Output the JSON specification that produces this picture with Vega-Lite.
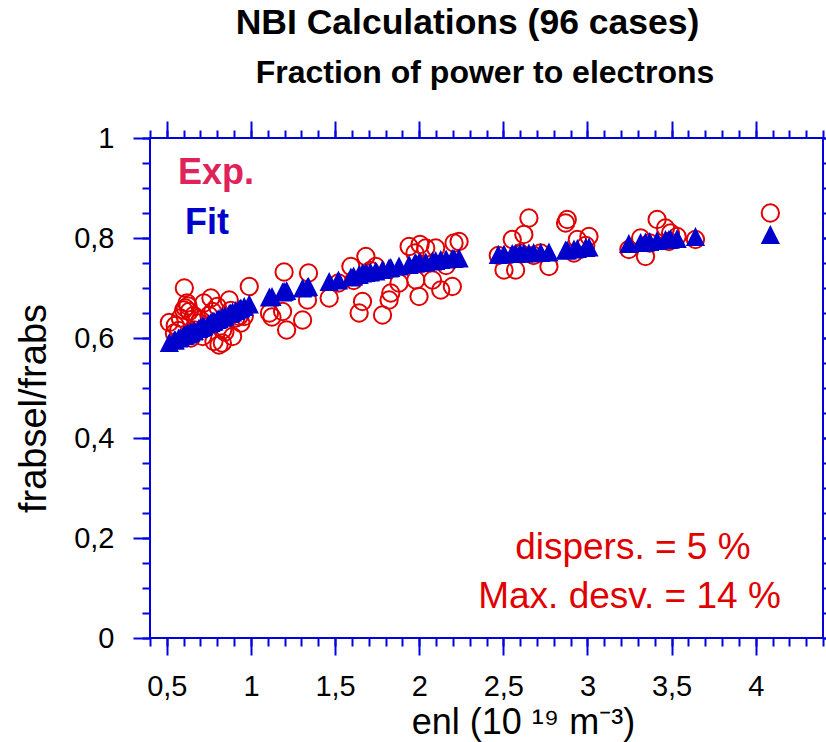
{
  "$schema": "https://vega.github.io/schema/vega-lite/v6.json",
  "width": 673,
  "height": 500,
  "autosize": "none",
  "padding": {"left": 150, "top": 138, "right": 3, "bottom": 104},
  "background": "white",
  "config": {
    "font": "Liberation Sans",
    "view": {"stroke": "#0000e0", "strokeWidth": 2},
    "axis": {
      "domain": false, "grid": false, "tickColor": "#0000e0", "tickWidth": 2,
      "labelFont": "Liberation Sans", "labelFontSize": 29, "labelColor": "black",
      "titleFont": "Liberation Sans", "titleFontSize": 36, "titleFontWeight": "normal", "titleColor": "black"
    }
  },
  "title": {
    "text": "NBI Calculations (96 cases)",
    "fontSize": 35.5, "fontWeight": "bold", "font": "Liberation Sans", "color": "black",
    "anchor": "middle", "baseline": "alphabetic", "offset": -13, "dx": -19
  },
  "datasets": {
    "cases": [
      {"enl": 0.515, "exp": 0.631, "fit": 0.591},
      {"enl": 0.545, "exp": 0.610, "fit": 0.596},
      {"enl": 0.55, "exp": 0.625, "fit": 0.596},
      {"enl": 0.57, "exp": 0.615, "fit": 0.600},
      {"enl": 0.58, "exp": 0.640, "fit": 0.601},
      {"enl": 0.60, "exp": 0.656, "fit": 0.605},
      {"enl": 0.604, "exp": 0.700, "fit": 0.605},
      {"enl": 0.61, "exp": 0.660, "fit": 0.606},
      {"enl": 0.62, "exp": 0.670, "fit": 0.608},
      {"enl": 0.626, "exp": 0.664, "fit": 0.609},
      {"enl": 0.633, "exp": 0.653, "fit": 0.610},
      {"enl": 0.643, "exp": 0.600, "fit": 0.612},
      {"enl": 0.66, "exp": 0.645, "fit": 0.614},
      {"enl": 0.663, "exp": 0.616, "fit": 0.615},
      {"enl": 0.69, "exp": 0.630, "fit": 0.619},
      {"enl": 0.70, "exp": 0.636, "fit": 0.621},
      {"enl": 0.713, "exp": 0.603, "fit": 0.623},
      {"enl": 0.72, "exp": 0.670, "fit": 0.624},
      {"enl": 0.75, "exp": 0.645, "fit": 0.629},
      {"enl": 0.762, "exp": 0.680, "fit": 0.631},
      {"enl": 0.772, "exp": 0.653, "fit": 0.633},
      {"enl": 0.78, "exp": 0.593, "fit": 0.634},
      {"enl": 0.80, "exp": 0.663, "fit": 0.637},
      {"enl": 0.81, "exp": 0.586, "fit": 0.639},
      {"enl": 0.83, "exp": 0.590, "fit": 0.642},
      {"enl": 0.832, "exp": 0.616, "fit": 0.642},
      {"enl": 0.845, "exp": 0.612, "fit": 0.644},
      {"enl": 0.871, "exp": 0.676, "fit": 0.649},
      {"enl": 0.88, "exp": 0.655, "fit": 0.650},
      {"enl": 0.891, "exp": 0.603, "fit": 0.652},
      {"enl": 0.91, "exp": 0.640, "fit": 0.655},
      {"enl": 0.93, "exp": 0.643, "fit": 0.658},
      {"enl": 0.94, "exp": 0.630, "fit": 0.660},
      {"enl": 0.96, "exp": 0.643, "fit": 0.663},
      {"enl": 0.99, "exp": 0.703, "fit": 0.668},
      {"enl": 1.11, "exp": 0.650, "fit": 0.682},
      {"enl": 1.125, "exp": 0.642, "fit": 0.683},
      {"enl": 1.188, "exp": 0.653, "fit": 0.692},
      {"enl": 1.197, "exp": 0.732, "fit": 0.693},
      {"enl": 1.212, "exp": 0.616, "fit": 0.695},
      {"enl": 1.307, "exp": 0.636, "fit": 0.700},
      {"enl": 1.336, "exp": 0.676, "fit": 0.702},
      {"enl": 1.342, "exp": 0.730, "fit": 0.703},
      {"enl": 1.465, "exp": 0.680, "fit": 0.713},
      {"enl": 1.52, "exp": 0.710, "fit": 0.716},
      {"enl": 1.594, "exp": 0.743, "fit": 0.722},
      {"enl": 1.61, "exp": 0.715, "fit": 0.724},
      {"enl": 1.643, "exp": 0.650, "fit": 0.727},
      {"enl": 1.663, "exp": 0.673, "fit": 0.730},
      {"enl": 1.683, "exp": 0.763, "fit": 0.731},
      {"enl": 1.71, "exp": 0.735, "fit": 0.732},
      {"enl": 1.742, "exp": 0.743, "fit": 0.734},
      {"enl": 1.782, "exp": 0.646, "fit": 0.737},
      {"enl": 1.821, "exp": 0.676, "fit": 0.740},
      {"enl": 1.831, "exp": 0.690, "fit": 0.741},
      {"enl": 1.88, "exp": 0.710, "fit": 0.744},
      {"enl": 1.94, "exp": 0.783, "fit": 0.747},
      {"enl": 1.975, "exp": 0.770, "fit": 0.750},
      {"enl": 1.98, "exp": 0.716, "fit": 0.750},
      {"enl": 1.999, "exp": 0.683, "fit": 0.751},
      {"enl": 2.005, "exp": 0.787, "fit": 0.751},
      {"enl": 2.039, "exp": 0.780, "fit": 0.752},
      {"enl": 2.079, "exp": 0.716, "fit": 0.754},
      {"enl": 2.098, "exp": 0.780, "fit": 0.755},
      {"enl": 2.128, "exp": 0.696, "fit": 0.757},
      {"enl": 2.16, "exp": 0.745, "fit": 0.758},
      {"enl": 2.197, "exp": 0.703, "fit": 0.759},
      {"enl": 2.207, "exp": 0.790, "fit": 0.759},
      {"enl": 2.237, "exp": 0.793, "fit": 0.760},
      {"enl": 2.47, "exp": 0.765, "fit": 0.767},
      {"enl": 2.504, "exp": 0.736, "fit": 0.768},
      {"enl": 2.553, "exp": 0.797, "fit": 0.769},
      {"enl": 2.573, "exp": 0.736, "fit": 0.769},
      {"enl": 2.60, "exp": 0.770, "fit": 0.770},
      {"enl": 2.622, "exp": 0.807, "fit": 0.770},
      {"enl": 2.652, "exp": 0.840, "fit": 0.770},
      {"enl": 2.68, "exp": 0.765, "fit": 0.771},
      {"enl": 2.722, "exp": 0.770, "fit": 0.771},
      {"enl": 2.771, "exp": 0.743, "fit": 0.772},
      {"enl": 2.87, "exp": 0.830, "fit": 0.776},
      {"enl": 2.88, "exp": 0.837, "fit": 0.776},
      {"enl": 2.92, "exp": 0.770, "fit": 0.778},
      {"enl": 2.94, "exp": 0.797, "fit": 0.779},
      {"enl": 2.99, "exp": 0.785, "fit": 0.781},
      {"enl": 3.009, "exp": 0.803, "fit": 0.782},
      {"enl": 3.246, "exp": 0.777, "fit": 0.789},
      {"enl": 3.316, "exp": 0.800, "fit": 0.791},
      {"enl": 3.345, "exp": 0.763, "fit": 0.792},
      {"enl": 3.37, "exp": 0.790, "fit": 0.793},
      {"enl": 3.414, "exp": 0.837, "fit": 0.795},
      {"enl": 3.464, "exp": 0.820, "fit": 0.797},
      {"enl": 3.484, "exp": 0.793, "fit": 0.797},
      {"enl": 3.494, "exp": 0.810, "fit": 0.798},
      {"enl": 3.533, "exp": 0.803, "fit": 0.799},
      {"enl": 3.642, "exp": 0.797, "fit": 0.803},
      {"enl": 4.087, "exp": 0.850, "fit": 0.807}
    ],
    "legendText": [
      {"label": "Exp.", "x": 0.566, "y": 0.908},
      {"label": "Fit", "x": 0.608, "y": 0.809}
    ],
    "notes": [
      {"label": "dispers. = 5 %", "x": 3.27, "y": 0.159},
      {"label": "Max. desv. = 14 %", "x": 3.25, "y": 0.061}
    ]
  },
  "resolve": {"axis": {"x": "independent", "y": "independent"}},
  "layer": [
    {
      "data": {"name": "cases"},
      "mark": {"type": "point", "shape": "circle", "filled": false, "stroke": "#e00000", "strokeWidth": 2, "size": 300, "opacity": 1},
      "encoding": {
        "x": {
          "field": "enl", "type": "quantitative",
          "scale": {"domain": [0.4, 4.4], "nice": false, "zero": false},
          "axis": {
            "orient": "bottom", "values": [0.5, 1, 1.5, 2, 2.5, 3, 3.5, 4], "tickSize": 17,
            "labelPadding": 17, "labelExpr": "replace(format(datum.value, '~g'), '.', ',')",
            "title": "enl (10 ¹⁹ m⁻³)", "titlePadding": 4, "titleX": 373
          }
        },
        "y": {
          "field": "exp", "type": "quantitative",
          "scale": {"domain": [0, 1], "nice": false, "zero": false},
          "axis": {
            "orient": "left", "values": [0, 0.2, 0.4, 0.6, 0.8, 1], "tickSize": 17,
            "labelPadding": 19, "labelExpr": "replace(format(datum.value, '~g'), '.', ',')",
            "title": "frabsel/frabs", "titleFontSize": 38, "titlePadding": 20, "titleY": 270
          }
        }
      }
    },
    {
      "data": {"name": "cases"},
      "mark": {"type": "point", "shape": "M0,-1L-1,1L1,1Z", "filled": true, "fill": "#0000cc", "strokeWidth": 0, "size": 370, "opacity": 1},
      "encoding": {
        "x": {
          "field": "enl", "type": "quantitative",
          "scale": {"domain": [0.4, 4.4], "nice": false, "zero": false},
          "axis": {
            "orient": "bottom", "tickSize": 8, "labels": false, "title": null,
            "values": [0.4,0.5,0.6,0.7,0.8,0.9,1,1.1,1.2,1.3,1.4,1.5,1.6,1.7,1.8,1.9,2,2.1,2.2,2.3,2.4,2.5,2.6,2.7,2.8,2.9,3,3.1,3.2,3.3,3.4,3.5,3.6,3.7,3.8,3.9,4,4.1,4.2,4.3,4.4]
          }
        },
        "y": {
          "field": "fit", "type": "quantitative",
          "scale": {"domain": [0, 1], "nice": false, "zero": false},
          "axis": {
            "orient": "left", "tickSize": 8, "labels": false, "title": null,
            "values": [0,0.05,0.1,0.15,0.2,0.25,0.3,0.35,0.4,0.45,0.5,0.55,0.6,0.65,0.7,0.75,0.8,0.85,0.9,0.95,1]
          }
        }
      }
    },
    {
      "data": {"name": "legendText"},
      "mark": {"type": "text", "align": "left", "baseline": "alphabetic", "fontSize": 36, "fontWeight": "bold", "font": "Liberation Sans"},
      "encoding": {
        "x": {
          "field": "x", "type": "quantitative",
          "scale": {"domain": [0.4, 4.4], "nice": false, "zero": false},
          "axis": {
            "orient": "top", "tickSize": 17, "labels": false, "values": [0.5, 1, 1.5, 2, 2.5, 3, 3.5, 4],
            "title": "Fraction of power to electrons", "titleFontSize": 32, "titleFontWeight": "bold",
            "titleX": 334.5, "titlePadding": 31
          }
        },
        "y": {
          "field": "y", "type": "quantitative",
          "scale": {"domain": [0, 1], "nice": false, "zero": false},
          "axis": {"orient": "right", "tickSize": 17, "labels": false, "title": null, "values": [0, 0.2, 0.4, 0.6, 0.8, 1]}
        },
        "text": {"field": "label"},
        "color": {"field": "label", "type": "nominal", "scale": {"domain": ["Exp.", "Fit"], "range": ["#e0225a", "#0000cc"]}, "legend": null}
      }
    },
    {
      "data": {"name": "notes"},
      "mark": {"type": "text", "align": "center", "baseline": "alphabetic", "fontSize": 37, "font": "Liberation Sans", "color": "#e00000"},
      "encoding": {
        "x": {
          "field": "x", "type": "quantitative",
          "scale": {"domain": [0.4, 4.4], "nice": false, "zero": false},
          "axis": {
            "orient": "top", "tickSize": 8, "labels": false, "title": null,
            "values": [0.4,0.5,0.6,0.7,0.8,0.9,1,1.1,1.2,1.3,1.4,1.5,1.6,1.7,1.8,1.9,2,2.1,2.2,2.3,2.4,2.5,2.6,2.7,2.8,2.9,3,3.1,3.2,3.3,3.4,3.5,3.6,3.7,3.8,3.9,4,4.1,4.2,4.3,4.4]
          }
        },
        "y": {
          "field": "y", "type": "quantitative",
          "scale": {"domain": [0, 1], "nice": false, "zero": false},
          "axis": {
            "orient": "right", "tickSize": 8, "labels": false, "title": null,
            "values": [0,0.05,0.1,0.15,0.2,0.25,0.3,0.35,0.4,0.45,0.5,0.55,0.6,0.65,0.7,0.75,0.8,0.85,0.9,0.95,1]
          }
        },
        "text": {"field": "label"}
      }
    }
  ]
}
